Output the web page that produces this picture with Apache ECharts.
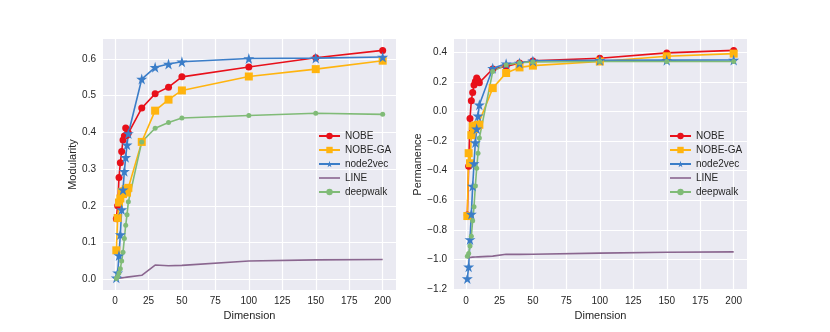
<!DOCTYPE html>
<html>
<head>
<meta charset="utf-8">
<script src="https://cdn.jsdelivr.net/npm/echarts@6/dist/echarts.min.js"></script>
<style>
  html, body { margin: 0; padding: 0; background: #fff; }
  #chart { width: 830px; height: 332px; }
</style>
</head>
<body>
<div id="chart"></div>
<script>
var dims = [1, 2, 3, 4, 5, 6, 7, 8, 9, 10, 20, 30, 40, 50, 100, 150, 200];

// left panel: modularity
var nobeMod = [0.165, 0.2, 0.277, 0.317, 0.348, 0.379, 0.39, 0.412, 0.392, 0.398, 0.466, 0.505, 0.523, 0.551, 0.578, 0.603, 0.623];
var nobeGaMod = [0.079, 0.167, 0.209, 0.22, 0.238, 0.232, 0.24, 0.245, 0.236, 0.249, 0.374, 0.459, 0.489, 0.514, 0.552, 0.572, 0.595];
var node2vecMod = [0.004, 0.018, 0.065, 0.122, 0.19, 0.244, 0.294, 0.332, 0.366, 0.397, 0.545, 0.577, 0.586, 0.592, 0.601, 0.602, 0.605];
var lineMod = [0.001, 0.002, 0.003, 0.003, 0.004, 0.004, 0.005, 0.005, 0.006, 0.006, 0.011, 0.039, 0.037, 0.038, 0.05, 0.053, 0.054];
var deepwalkMod = [0.002, 0.008, 0.017, 0.029, 0.05, 0.074, 0.111, 0.147, 0.176, 0.211, 0.374, 0.411, 0.427, 0.439, 0.446, 0.452, 0.449];

// right panel: permanence
var nobePerm = [-0.70, -0.37, -0.047, 0.073, 0.129, 0.179, 0.203, 0.226, 0.21, 0.195, 0.287, 0.305, 0.328, 0.342, 0.36, 0.396, 0.413];
var nobeGaPerm = [-0.707, -0.282, -0.35, -0.16, -0.1, -0.12, -0.095, -0.1, -0.09, -0.09, 0.158, 0.26, 0.298, 0.31, 0.338, 0.373, 0.391];
var node2vecPerm = [-1.13, -1.05, -0.865, -0.694, -0.504, -0.352, -0.21, -0.117, -0.029, 0.045, 0.292, 0.323, 0.328, 0.342, 0.346, 0.347, 0.348];
var linePerm = [-0.99, -0.988, -0.987, -0.986, -0.985, -0.985, -0.984, -0.984, -0.983, -0.983, -0.978, -0.965, -0.966, -0.965, -0.958, -0.952, -0.949];
var deepwalkPerm = [-0.978, -0.96, -0.91, -0.843, -0.739, -0.644, -0.504, -0.384, -0.282, -0.18, 0.271, 0.315, 0.33, 0.335, 0.338, 0.338, 0.338];

var xTicks = [0, 25, 50, 75, 100, 125, 150, 175, 200];
var modTicks = [0, 0.1, 0.2, 0.3, 0.4, 0.5, 0.6];
var permTicks = [-1.2, -1.0, -0.8, -0.6, -0.4, -0.2, 0, 0.2, 0.4];

var names = ['NOBE', 'NOBE-GA', 'node2vec', 'LINE', 'deepwalk'];
var colors = ['#e8101a', '#ffb40f', '#3b7dc8', '#8a668f', '#80bb77'];
var STAR = 'path://M50,0 L61,35 L98,35 L68,57 L79,91 L50,70 L21,91 L32,57 L2,35 L39,35 Z';
var symbols = ['circle', 'rect', STAR, 'none', 'circle'];
var sizes = [7, 8, 11, 0, 5];
// plain line for the legend entry without marker
var LINE_ICON = 'path://M0,0 L21,0 L21,1.6 L0,1.6 Z';

var font = 'Liberation Sans, Arial, sans-serif';
var tickColor = '#262626';

function pairs(ys) {
  return dims.map(function (d, i) { return [d, ys[i]]; });
}
function fmt(v) {
  return v.toFixed(1).replace('-', '\u2212');
}

function xAxis(idx) {
  return {
    type: 'value', gridIndex: idx, min: -8.95, max: 209.95,
    name: 'Dimension', nameLocation: 'middle', nameGap: 19,
    nameTextStyle: { color: tickColor, fontSize: 11, fontFamily: font },
    axisLine: { show: false },
    axisTick: { show: false, customValues: xTicks },
    axisLabel: { customValues: xTicks, color: tickColor, fontSize: 10, fontFamily: font, margin: 6,
      formatter: function (v) { return String(v); } },
    splitLine: { show: true, lineStyle: { color: '#ffffff', width: 1.2 } }
  };
}
function yAxis(idx, name, min, max, ticks, gap) {
  return {
    type: 'value', gridIndex: idx, min: min, max: max,
    name: name, nameLocation: 'middle', nameGap: gap, nameRotate: 90,
    nameTextStyle: { color: tickColor, fontSize: 11, fontFamily: font },
    axisLine: { show: false },
    axisTick: { show: false, customValues: ticks },
    axisLabel: { customValues: ticks, color: tickColor, fontSize: 10, fontFamily: font, margin: 7, formatter: fmt },
    splitLine: { show: true, lineStyle: { color: '#ffffff', width: 1.2 } }
  };
}

var modData = [nobeMod, nobeGaMod, node2vecMod, lineMod, deepwalkMod];
var permData = [nobePerm, nobeGaPerm, node2vecPerm, linePerm, deepwalkPerm];

var series = [];
[modData, permData].forEach(function (set, g) {
  set.forEach(function (ys, i) {
    series.push({
      name: names[i], type: 'line', xAxisIndex: g, yAxisIndex: g,
      data: pairs(ys),
      symbol: symbols[i], symbolSize: sizes[i], showSymbol: symbols[i] !== 'none',
      lineStyle: { color: colors[i], width: 1.6 },
      itemStyle: { color: colors[i], borderWidth: 0 },
      emphasis: { disabled: true },
      animation: false
    });
  });
});

function legend(left) {
  return {
    data: names.map(function (n, i) {
      return symbols[i] === 'none' ? { name: n, icon: LINE_ICON, itemStyle: { color: colors[i] } } : { name: n };
    }),
    orient: 'vertical', left: left, top: 131, padding: 0,
    itemWidth: 21, itemHeight: 8, itemGap: 4,
    textStyle: { color: tickColor, fontSize: 10, fontFamily: font },
    selectedMode: false
  };
}

var myChart = echarts.init(document.getElementById('chart'));
myChart.setOption({
  backgroundColor: '#ffffff',
  animation: false,
  grid: [
    { left: 103, top: 39, width: 293, height: 251, backgroundColor: '#eaeaf2', show: true, borderWidth: 0 },
    { left: 454, top: 39, width: 293, height: 251, backgroundColor: '#eaeaf2', show: true, borderWidth: 0 }
  ],
  legend: [legend(318), legend(669)],
  xAxis: [xAxis(0), xAxis(1)],
  yAxis: [
    yAxis(0, 'Modularity', -0.029, 0.654, modTicks, 23),
    yAxis(1, 'Permanence', -1.207, 0.49, permTicks, 28)
  ],
  series: series
});
</script>
</body>
</html>
